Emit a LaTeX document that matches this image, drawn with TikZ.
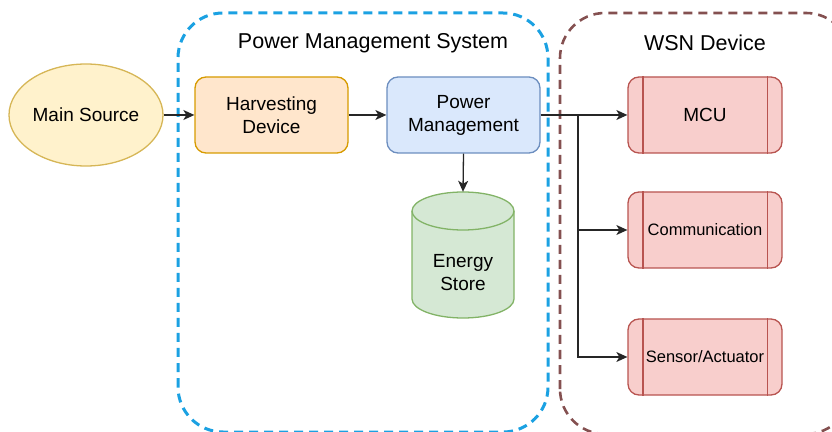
\documentclass[tikz,border=0pt]{standalone}
\usepackage{fontspec}
\setmainfont{Liberation Sans}
\usetikzlibrary{arrows.meta,shapes.geometric}
\definecolor{msfill}{HTML}{FFF2CC}
\definecolor{msdraw}{HTML}{D6B656}
\definecolor{hdfill}{HTML}{FFE6CC}
\definecolor{hddraw}{HTML}{D79B00}
\definecolor{pmfill}{HTML}{DAE8FC}
\definecolor{pmdraw}{HTML}{6C8EBF}
\definecolor{esfill}{HTML}{D5E8D4}
\definecolor{esdraw}{HTML}{82B366}
\definecolor{rdfill}{HTML}{F8CECC}
\definecolor{rddraw}{HTML}{B85450}
\definecolor{bluecont}{HTML}{1BA1E2}
\definecolor{browncont}{HTML}{845050}
\begin{document}
\begin{tikzpicture}[x=1pt,y=1pt,
  box/.style={rectangle, rounded corners=11pt, minimum width=153pt, minimum height=76pt,
    line width=1.3pt, align=center, inner sep=0pt, font=\fontsize{19}{23}\selectfont},
  procbox/.style={box, fill=rdfill, draw=rddraw, minimum width=154pt},
  conn/.style={line width=1.3pt, draw=black!85, -{Stealth[length=11pt,width=10pt,inset=3pt]}},
  cont/.style={line width=3pt, dash pattern=on 9pt off 6pt, rounded corners=45pt},
  ttl/.style={font=\fontsize{21.5}{25}\selectfont}]
\useasboundingbox (0,0) rectangle (832,431);
\clip (0,0) rectangle (832,431);
% containers
\draw[cont, draw=bluecont] (178,-1) rectangle (548,418);
\draw[cont, draw=browncont, line width=2.6pt] (560,-3) rectangle (851,418);
\node[ttl] (pmst) at (373,388) {Power Management System};
\node[ttl] (wsnt) at (705,388) {WSN Device};
% main source
\node[ellipse, minimum width=154pt, minimum height=102pt, inner sep=0pt, fill=msfill, draw=msdraw,
  line width=1.3pt, font=\fontsize{19}{23}\selectfont] (ms) at (86,316) {Main Source};
\node[box, fill=hdfill, draw=hddraw] (hd) at (271.5,316) {Harvesting\\Device};
\node[box, fill=pmfill, draw=pmdraw] (pm) at (463.5,316) {Power\\Management};
% energy store
\node[minimum width=102pt, minimum height=126pt, inner sep=0pt] (es) at (463,176) {};
\filldraw[fill=esfill, draw=esdraw, line width=1.3pt]
  (412,220) -- (412,132) arc[start angle=180, end angle=360, x radius=51, y radius=19]
  -- (514,220) arc[start angle=0, end angle=180, x radius=51, y radius=19] -- cycle;
\draw[draw=esdraw, line width=1.3pt] (412,220) arc[start angle=180, end angle=360, x radius=51, y radius=19];
\node[align=center, font=\fontsize{19}{23}\selectfont] (est) at (463,158) {Energy\\Store};
% WSN boxes
\node[procbox] (mcu) at (705,316) {MCU};
\node[procbox, font=\fontsize{16.5}{20}\selectfont] (comm) at (705,201) {Communication};
\node[procbox, font=\fontsize{16.5}{20}\selectfont] (sens) at (705,74) {Sensor/Actuator};
\foreach \n in {mcu,comm,sens}{
  \draw[draw=rddraw, line width=1.3pt] ([xshift=15.5pt]\n.north west) -- ([xshift=15.5pt]\n.south west);
  \draw[draw=rddraw, line width=1.3pt] ([xshift=-15.5pt]\n.north east) -- ([xshift=-15.5pt]\n.south east);
}
% connectors
\draw[conn] (ms.east) -- (hd.west);
\draw[conn] (hd.east) -- (pm.west);
\draw[conn] (pm.south) -- (es.north);
\draw[conn] (pm.east) -- (mcu.west);
\coordinate (split) at (578,316);
\draw[conn] (split) |- (comm.west);
\draw[conn] (split) |- (sens.west);
\end{tikzpicture}
\end{document}
